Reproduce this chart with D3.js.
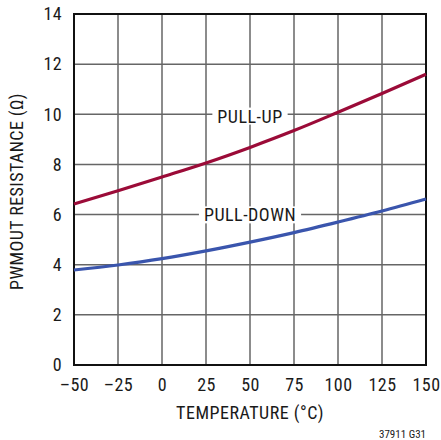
<!DOCTYPE html>
<html>
<head>
<meta charset="utf-8">
<script src="https://cdn.jsdelivr.net/npm/d3@7"></script>
<style>
  body { margin: 0; background: #fff; }
  svg text { font-family: 'Liberation Sans Narrow', 'Roboto Condensed', 'DejaVu Sans Condensed', sans-serif; fill: #1a1a1a; }
</style>
</head>
<body>
<svg id="chart" width="441" height="440"></svg>
<script>
// temperature (°C) and resistance (Ω)
const temps = [-50, -25, 0, 25, 50, 75, 100, 125, 150];
const pullUp = [6.42, 6.95, 7.5, 8.06, 8.68, 9.35, 10.08, 10.83, 11.6];
const pullDown = [3.79, 3.99, 4.24, 4.55, 4.9, 5.28, 5.7, 6.14, 6.62];
const xTicks = [-50, -25, 0, 25, 50, 75, 100, 125, 150];
const yTicks = [0, 2, 4, 6, 8, 10, 12, 14];

const margin = { top: 14, right: 15, bottom: 75, left: 74 },
  width = 441 - margin.left - margin.right,
  height = 440 - margin.top - margin.bottom;

const svg = d3.select('#chart');
const g = svg.append('g').attr('transform', 'translate(' + margin.left + ',' + margin.top + ')');

const x = d3.scaleLinear().domain([-50, 150]).range([0, width]);
const y = d3.scaleLinear().domain([0, 14]).range([height, 0]);

// grid
g.append('g').selectAll('line').data(xTicks.slice(1, -1)).enter().append('line')
  .attr('x1', d => x(d)).attr('x2', d => x(d))
  .attr('y1', 0).attr('y2', height)
  .attr('stroke', '#666').attr('stroke-width', 1.5);
g.append('g').selectAll('line').data(yTicks.slice(1, -1)).enter().append('line')
  .attr('y1', d => y(d)).attr('y2', d => y(d))
  .attr('x1', 0).attr('x2', width)
  .attr('stroke', '#666').attr('stroke-width', 1.5);

// frame
g.append('rect').attr('width', width).attr('height', height)
  .attr('fill', 'none').attr('stroke', '#111').attr('stroke-width', 2);

// axes (labels only)
const xAxis = g.append('g').attr('transform', 'translate(0,' + height + ')')
  .call(d3.axisBottom(x).tickValues(xTicks).tickSize(0).tickPadding(13)
    .tickFormat(d => d < 0 ? '\u2013' + Math.abs(d) : d));
const yAxis = g.append('g')
  .call(d3.axisLeft(y).tickValues(yTicks).tickSize(0).tickPadding(12));
[xAxis, yAxis].forEach(a => {
  a.select('.domain').remove();
  a.selectAll('text').style('font-size', '18px').style('letter-spacing', '0.4px').attr('fill', '#1a1a1a');
});

// curves
const line = d3.line().x((d, i) => x(temps[i])).y(d => y(d)).curve(d3.curveMonotoneX);
g.append('path').datum(pullUp).attr('d', line)
  .attr('fill', 'none').attr('stroke', '#9b0b38').attr('stroke-width', 3.2);
g.append('path').datum(pullDown).attr('d', line)
  .attr('fill', 'none').attr('stroke', '#3a55ad').attr('stroke-width', 3.2);

// curve labels with white knock-out
const labels = [
  { text: 'PULL-UP', t: 50, v: 9.92 },
  { text: 'PULL-DOWN', t: 50, v: 5.98 }
];
labels.forEach(l => {
  const t = g.append('text').attr('x', x(l.t)).attr('y', y(l.v))
    .attr('text-anchor', 'middle').attr('dy', '0.35em')
    .style('font-size', '18px').style('letter-spacing', '0.5px').text(l.text);
  const bb = t.node().getBBox();
  g.insert('rect', function() { return t.node(); })
    .attr('x', bb.x - 5).attr('y', bb.y + 2).attr('width', bb.width + 10).attr('height', bb.height - 4)
    .attr('fill', '#fff');
});

// axis titles
svg.append('text').attr('x', margin.left + width / 2).attr('y', 419)
  .attr('text-anchor', 'middle').style('font-size', '18px').style('letter-spacing', '0.5px').text('TEMPERATURE (°C)');
svg.append('text').attr('transform', 'translate(23,' + (margin.top + height / 2 + 2) + ') rotate(-90)')
  .attr('text-anchor', 'middle').style('font-size', '18px').style('letter-spacing', '0.4px').text('PWMOUT RESISTANCE (Ω)');
svg.append('text').attr('x', 426).attr('y', 438)
  .attr('text-anchor', 'end').style('font-size', '11px').text('37911 G31');
</script>
</body>
</html>
